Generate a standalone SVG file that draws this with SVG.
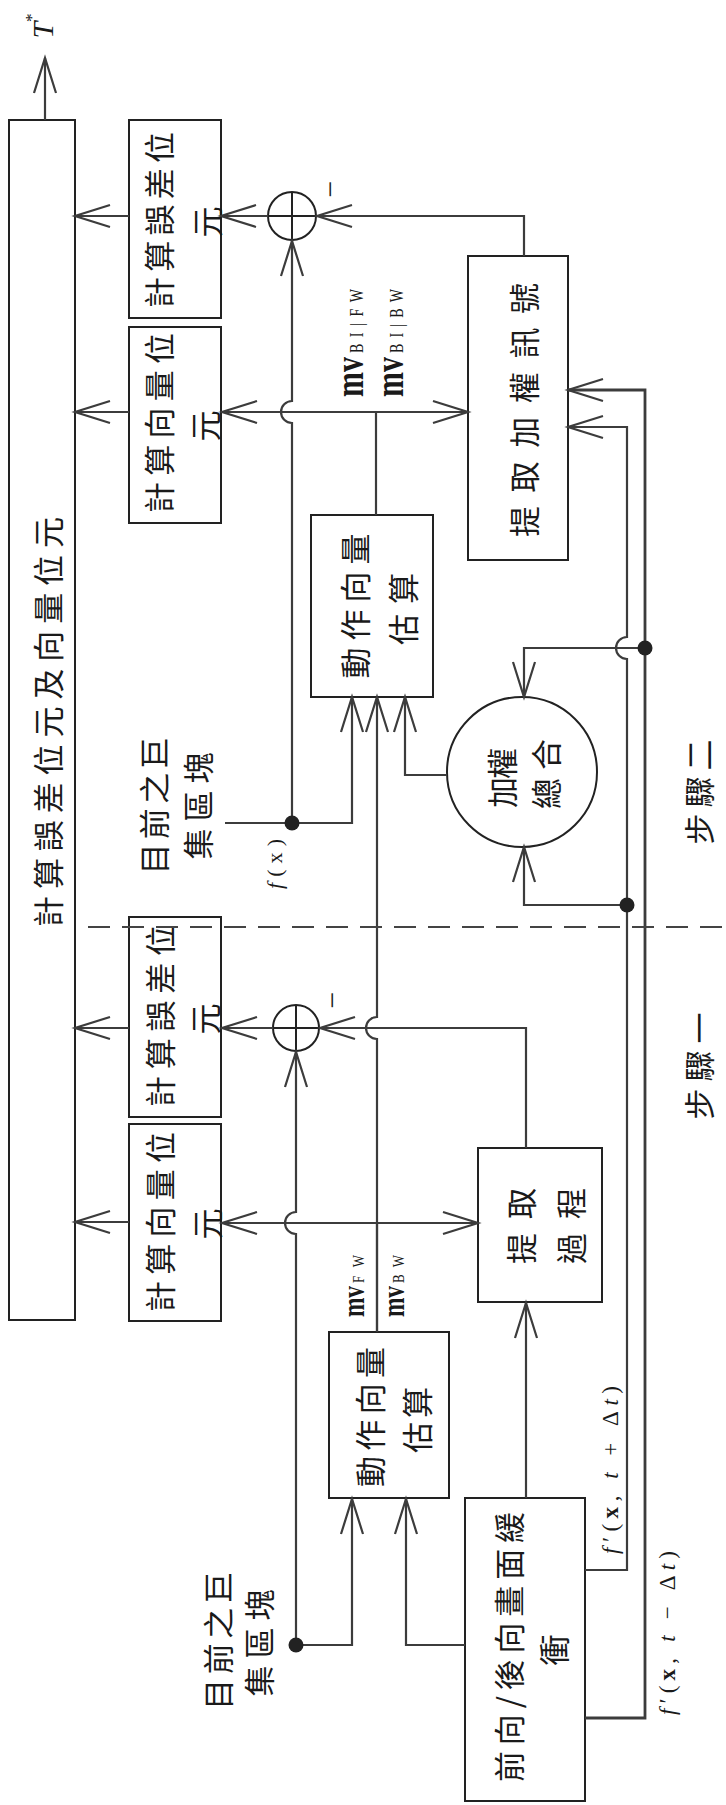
<svg xmlns="http://www.w3.org/2000/svg" width="726" height="1805" viewBox="0 0 726 1805">
<defs>
<style>
.box{fill:#fff;stroke:#222;stroke-width:2}
.ln{fill:none;stroke:#3c3c3c;stroke-width:2.2}
.ln3{fill:none;stroke:#3c3c3c;stroke-width:2.8}
.arr{marker-end:url(#ah)}
.dot{fill:#222}
.dash{fill:none;stroke:#444;stroke-width:2;stroke-dasharray:22 12}
.cjk{font-family:"Noto Sans CJK TC","Noto Sans CJK SC",sans-serif;font-size:31px;fill:#1a1a1a;text-anchor:middle;dominant-baseline:central}
.ser{font-family:"Liberation Serif",serif;fill:#1a1a1a}
.cen{text-anchor:middle;dominant-baseline:central}
</style>
<marker id="ah" viewBox="-38 -13 40 26" markerWidth="40" markerHeight="26" refX="0" refY="0" orient="auto" markerUnits="userSpaceOnUse" overflow="visible">
<path d="M-35,-11 L0,0 L-35,11" fill="none" stroke="#3c3c3c" stroke-width="2.2"/>
</marker>
</defs>
<rect width="726" height="1805" fill="#fff"/>

<g id="n-total">
<rect class="box" x="9" y="120" width="66" height="1200"/>
<text class="cjk" x="46" y="722" transform="rotate(-90 46 722)" textLength="410" lengthAdjust="spacing">計算誤差位元及向量位元</text>
</g>
<g id="n-out-label">
<text class="ser cen" x="42" y="26" transform="rotate(-90 42 26)" font-size="30"><tspan font-style="italic">T</tspan><tspan font-size="17" dy="-11">*</tspan></text>
</g>

<g id="n-err2">
<rect class="box" x="129" y="120" width="92" height="198"/>
<text class="cjk" x="157" y="220" transform="rotate(-90 157 220)" textLength="176" lengthAdjust="spacing">計算誤差位</text>
<text class="cjk" x="205" y="222" transform="rotate(-90 205 222)">元</text>
</g>
<g id="n-vec2">
<rect class="box" x="129" y="327" width="92" height="196"/>
<text class="cjk" x="157" y="423" transform="rotate(-90 157 423)" textLength="180" lengthAdjust="spacing">計算向量位</text>
<text class="cjk" x="203" y="426" transform="rotate(-90 203 426)">元</text>
</g>
<g id="n-sum2">
<circle cx="292" cy="216" r="24" fill="#fff" stroke="#222" stroke-width="2"/>
<path d="M268 216 H316 M292 192 V240" stroke="#222" stroke-width="2"/>
<text class="ser cen" x="329" y="189" transform="rotate(-90 329 189)" font-size="30" font-family="Liberation Sans">−</text>
</g>
<g id="n-extw">
<rect class="box" x="468" y="256" width="100" height="304"/>
<text class="cjk" x="522" y="410" transform="rotate(-90 522 410)" font-size="34" textLength="254" lengthAdjust="spacing">提取加權訊號</text>
</g>
<g id="n-me2">
<rect class="box" x="311" y="515" width="122" height="182"/>
<text class="cjk" x="353" y="606" transform="rotate(-90 353 606)" textLength="145" lengthAdjust="spacing">動作向量</text>
<text class="cjk" x="401" y="609" transform="rotate(-90 401 609)" textLength="72" lengthAdjust="spacing">估算</text>
</g>
<g id="n-wsum">
<circle cx="522" cy="772" r="75" fill="#fff" stroke="#222" stroke-width="2"/>
<text class="cjk" x="500" y="778" transform="rotate(-90 500 778)" textLength="60" lengthAdjust="spacing">加權</text>
<text class="cjk" x="544" y="774" transform="rotate(-90 544 774)" textLength="70" lengthAdjust="spacing">總合</text>
</g>
<g id="n-mb2">
<text class="cjk" x="152" y="806" transform="rotate(-90 152 806)" textLength="137" lengthAdjust="spacing">目前之巨</text>
<text class="cjk" x="196" y="806" transform="rotate(-90 196 806)" textLength="107" lengthAdjust="spacing">集區塊</text>
</g>
<g id="n-fx">
<text class="ser cen" x="274" y="864" transform="rotate(-90 274 864)" font-size="22" textLength="50" lengthAdjust="spacing"><tspan font-style="italic">f</tspan>(x)</text>
</g>

<g id="n-err1">
<rect class="box" x="129" y="917" width="92" height="200"/>
<text class="cjk" x="158" y="1016" transform="rotate(-90 158 1016)" textLength="182" lengthAdjust="spacing">計算誤差位</text>
<text class="cjk" x="203" y="1019" transform="rotate(-90 203 1019)">元</text>
</g>
<g id="n-vec1">
<rect class="box" x="129" y="1124" width="92" height="197"/>
<text class="cjk" x="158" y="1222" transform="rotate(-90 158 1222)" textLength="180" lengthAdjust="spacing">計算向量位</text>
<text class="cjk" x="205" y="1224" transform="rotate(-90 205 1224)">元</text>
</g>
<g id="n-sum1">
<circle cx="296" cy="1028" r="23" fill="#fff" stroke="#222" stroke-width="2"/>
<path d="M273 1028 H319 M296 1005 V1051" stroke="#222" stroke-width="2"/>
<text class="ser cen" x="331" y="1000" transform="rotate(-90 331 1000)" font-size="30" font-family="Liberation Sans">−</text>
</g>
<g id="n-ext1">
<rect class="box" x="478" y="1148" width="124" height="154"/>
<text class="cjk" x="519" y="1226" transform="rotate(-90 519 1226)" textLength="76" lengthAdjust="spacing">提取</text>
<text class="cjk" x="569" y="1226" transform="rotate(-90 569 1226)" textLength="76" lengthAdjust="spacing">過程</text>
</g>
<g id="n-me1">
<rect class="box" x="329" y="1332" width="120" height="166"/>
<text class="cjk" x="368" y="1417" transform="rotate(-90 368 1417)" textLength="140" lengthAdjust="spacing">動作向量</text>
<text class="cjk" x="415" y="1420" transform="rotate(-90 415 1420)" textLength="66" lengthAdjust="spacing">估算</text>
</g>
<g id="n-buf">
<rect class="box" x="465" y="1498" width="120" height="303"/>
<text class="cjk" x="507" y="1647" transform="rotate(-90 507 1647)" textLength="270" lengthAdjust="spacing">前向/後向畫面緩</text>
<text class="cjk" x="552" y="1650" transform="rotate(-90 552 1650)">衝</text>
</g>
<g id="n-mb1">
<text class="cjk" x="216" y="1641" transform="rotate(-90 216 1641)" textLength="138" lengthAdjust="spacing">目前之巨</text>
<text class="cjk" x="257" y="1643" transform="rotate(-90 257 1643)" textLength="107" lengthAdjust="spacing">集區塊</text>
</g>

<g id="labels">
<g transform="translate(363,397) rotate(-90) scale(1,1.35)">
<text class="ser" x="0" y="0" font-size="29" font-weight="bold" textLength="40" lengthAdjust="spacingAndGlyphs">mv</text>
<text class="ser" x="44" y="0" font-size="14" fill="#555" textLength="64" lengthAdjust="spacing">BI|FW</text>
</g>
<g transform="translate(403,397) rotate(-90) scale(1,1.35)">
<text class="ser" x="0" y="0" font-size="29" font-weight="bold" textLength="40" lengthAdjust="spacingAndGlyphs">mv</text>
<text class="ser" x="44" y="0" font-size="14" fill="#555" textLength="64" lengthAdjust="spacing">BI|BW</text>
</g>
<g transform="translate(364,1317) rotate(-90) scale(1,1.35)">
<text class="ser" x="0" y="0" font-size="23" font-weight="bold" textLength="31" lengthAdjust="spacingAndGlyphs">mv</text>
<text class="ser" x="34" y="0" font-size="13" fill="#555" textLength="28" lengthAdjust="spacing">FW</text>
</g>
<g transform="translate(404,1317) rotate(-90) scale(1,1.35)">
<text class="ser" x="0" y="0" font-size="23" font-weight="bold" textLength="31" lengthAdjust="spacingAndGlyphs">mv</text>
<text class="ser" x="34" y="0" font-size="13" fill="#555" textLength="28" lengthAdjust="spacing">BW</text>
</g>
<text class="ser cen" x="610" y="1470" transform="rotate(-90 610 1470)" font-size="23" textLength="168" lengthAdjust="spacing"><tspan font-style="italic">f</tspan>′(<tspan font-weight="bold">x</tspan>, <tspan font-style="italic">t</tspan> + Δ<tspan font-style="italic">t</tspan>)</text>
<text class="ser cen" x="667" y="1633" transform="rotate(-90 667 1633)" font-size="23" textLength="164" lengthAdjust="spacing"><tspan font-style="italic">f</tspan>′(<tspan font-weight="bold">x</tspan>, <tspan font-style="italic">t</tspan> − Δ<tspan font-style="italic">t</tspan>)</text>
<text class="cjk" x="697" y="792" transform="rotate(-90 697 792)" font-size="30" textLength="105" lengthAdjust="spacing">步驟二</text>
<text class="cjk" x="697" y="1066" transform="rotate(-90 697 1066)" font-size="30" textLength="107" lengthAdjust="spacing">步驟一</text>
</g>

<g id="connectors">
<path class="ln arr" d="M45 120 V58"/>
<path class="ln arr" d="M129 216 H75"/>
<path class="ln arr" d="M268 216 H221"/>
<path class="ln arr" d="M524 256 V216 H317"/>
<path class="ln arr" d="M292 823 V423 A11 11 0 0 1 292 401 V241"/>
<path class="ln arr" d="M129 412 H75"/>
<path class="ln" d="M376 515 V412"/>
<path class="ln arr" d="M376 412 H222"/>
<path class="ln arr" d="M376 412 H468"/>
<path class="ln" d="M225 823 H292"/>
<path class="ln arr" d="M292 823 H352 V697"/>
<path class="ln arr" d="M377 1332 V1039 A11 11 0 0 1 377 1017 V697"/>
<path class="ln arr" d="M447 775 H405 V697"/>
<path class="ln arr" d="M645 648 H524 V697"/>
<path class="ln arr" d="M627 905 H524 V847"/>
<path class="ln3 arr" d="M585 1718 H645 V390 H568"/>
<path class="ln arr" d="M585 1570 H627 V659 A11 11 0 0 1 627 637 V427 H568"/>
<path class="ln arr" d="M129 1028 H75"/>
<path class="ln arr" d="M273 1028 H222"/>
<path class="ln arr" d="M526 1148 V1028 H320"/>
<path class="ln arr" d="M296 1645 V1234 A11 11 0 0 1 296 1212 V1052"/>
<path class="ln arr" d="M129 1222 H75"/>
<path class="ln" d="M377 1332 V1223"/>
<path class="ln arr" d="M377 1223 H222"/>
<path class="ln arr" d="M377 1223 H478"/>
<path class="ln arr" d="M296 1645 H352 V1499"/>
<path class="ln arr" d="M465 1645 H406 V1499"/>
<path class="ln arr" d="M526 1498 V1303"/>
<circle class="dot" cx="292" cy="823" r="7.5"/>
<circle class="dot" cx="296" cy="1645" r="7.5"/>
<circle class="dot" cx="645" cy="648" r="7.5"/>
<circle class="dot" cx="627" cy="905" r="7.5"/>
<path class="dash" d="M88 927 H726"/>
</g>
</svg>
